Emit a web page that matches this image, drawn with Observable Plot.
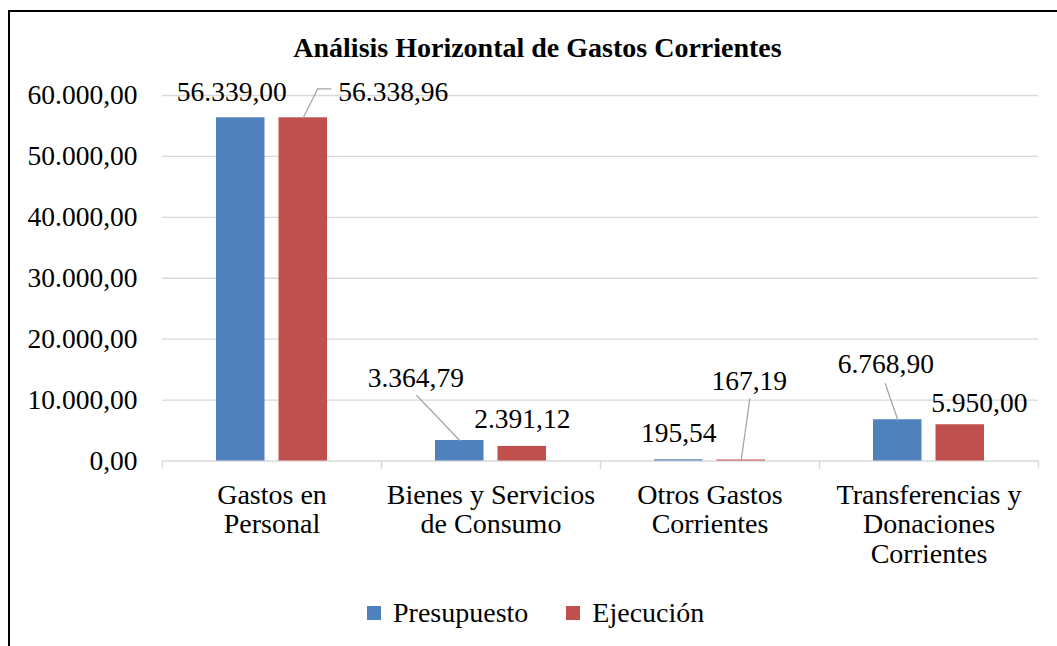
<!DOCTYPE html>
<html>
<head>
<meta charset="utf-8">
<script src="https://cdn.jsdelivr.net/npm/d3@7"></script>
<script src="https://cdn.jsdelivr.net/npm/@observablehq/plot@0.6"></script>
<style>
  html, body { margin: 0; padding: 0; background: #fff; width: 1057px; height: 646px; overflow: hidden; position: relative;
    font-family: 'Liberation Serif', 'Times New Roman', serif; color: #000; }
  #border { position: absolute; left: 8px; top: 10px; width: 1100px; height: 700px; border-left: 2px solid #000; border-top: 2px solid #000; box-sizing: border-box; }
  #title { position: absolute; left: 0; width: 1075px; top: 33.5px; text-align: center; font-weight: bold; font-size: 28px; line-height: 28px; font-family: 'Liberation Serif', serif; }
  #chart { position: absolute; left: 0; top: 70px; }
  #legend { position: absolute; left: 367px; top: 598.5px; display: flex; align-items: center; font-size: 28px; line-height: 28px; font-family: 'Liberation Serif', serif; }
  .sw { width: 14px; height: 14px; margin-right: 12px; }
  .item { display: flex; align-items: center; }
</style>
</head>
<body>
<div id="border"></div>
<div id="title">Análisis Horizontal de Gastos Corrientes</div>
<div id="chart"></div>
<div id="legend"></div>
<script>
// ---- data ----
const categories = ["Gastos en Personal", "Bienes y Servicios de Consumo", "Otros Gastos Corrientes", "Transferencias y Donaciones Corrientes"];
const categoryLabels = ["Gastos en\nPersonal", "Bienes y Servicios\nde Consumo", "Otros Gastos\nCorrientes", "Transferencias y\nDonaciones\nCorrientes"];
const series = ["Presupuesto", "Ejecución"];
const presupuesto = [56339.00, 3364.79, 195.54, 6768.90];
const ejecucion = [56338.96, 2391.12, 167.19, 5950.00];
const yTicks = [0, 10000, 20000, 30000, 40000, 50000, 60000];

// ---- presentation ----
const colors = ["#4f81bd", "#c0504d"];
// label offsets [dx, dy] (px) from bar top centre, per category
const presupuestoLabelOffsets = [[-9, -17], [-44, -54], [0, -18], [-12, -47]];
const ejecucionLabelOffsets = [[90, -17], [0, -18], [8, -70], [19, -13]];
// leader line polylines (px, relative to bar top centre), per category
const presupuestoLeaders = [null, [[-43, -45]], null, [[-12.5, -36]]];
const ejecucionLeaders = [[[14.5, -29], [27.5, -29]], null, [[8.5, -61]], null];

const locale = d3.formatLocale({decimal: ",", thousands: ".", grouping: [3], currency: ["", ""]});
const fmt = locale.format(",.2f");

const rows = [];
categories.forEach((c, i) => {
  rows.push({category: c, series: series[0], value: presupuesto[i], off: presupuestoLabelOffsets[i], leader: presupuestoLeaders[i]});
  rows.push({category: c, series: series[1], value: ejecucion[i], off: ejecucionLabelOffsets[i], leader: ejecucionLeaders[i]});
});

const lineShape = { draw(ctx, l) { ctx.moveTo(0, 0); ctx.lineTo(0, -l); } };

const labelMarks = rows.map(r => Plot.text([r], {
  fx: "category", x: "series", y: "value", text: d => fmt(d.value),
  dx: r.off[0], dy: r.off[1], lineAnchor: "bottom", textAnchor: "middle", fill: "#000", fontSize: 27.5
}));

const leaderMarks = [];
rows.forEach(r => {
  if (!r.leader) return;
  let prev = [0, 0];
  for (const p of r.leader) {
    const ex = p[0] - prev[0], ey = p[1] - prev[1];
    leaderMarks.push(Plot.vector([r], {
      fx: "category", x: "series", y: "value", dx: prev[0], dy: prev[1], anchor: "start",
      length: Math.hypot(ex, ey), rotate: Math.atan2(ex, -ey) * 180 / Math.PI,
      shape: lineShape, stroke: "#a6a6a6", strokeWidth: 1.3
    }));
    prev = p;
  }
});

const chart = Plot.plot({
  width: 1057, height: 510,
  marginTop: 25, marginBottom: 119.5, marginLeft: 162, marginRight: 19,
  style: {fontFamily: "'Liberation Serif', 'Times New Roman', serif", fontSize: "28px", color: "#000", background: "transparent", overflow: "visible"},
  fx: {domain: categories, padding: 0, round: false},
  x: {domain: series, paddingInner: 0.224, paddingOuter: 0.864, round: false, axis: null},
  y: {domain: [0, 60000]},
  color: {domain: series, range: colors},
  marks: [
    Plot.gridY({ticks: yTicks, stroke: "#d9d9d9", strokeOpacity: 1, strokeWidth: 1.3}),
    Plot.frame({anchor: "left", stroke: "#d9d9d9", strokeOpacity: 1, strokeWidth: 1.3, insetTop: 365.5, insetBottom: -7}),
    Plot.frame({anchor: "right", stroke: "#d9d9d9", strokeOpacity: 1, strokeWidth: 1.3, insetTop: 365.5, insetBottom: -7}),
    Plot.axisY({ticks: yTicks, tickFormat: fmt, tickSize: 0, tickPadding: 25, label: null, fontSize: 27.5}),
    Plot.axisFx({anchor: "bottom", tickSize: 0, tickPadding: 22, lineHeight: 1.05, label: null,
      tickFormat: c => categoryLabels[categories.indexOf(c)]}),
    Plot.barY(rows, {fx: "category", x: "series", y: "value", fill: "series"}),
    ...leaderMarks,
    ...labelMarks
  ]
});
document.getElementById("chart").appendChild(chart);

const legend = document.getElementById("legend");
series.forEach((s, i) => {
  const item = document.createElement("div");
  item.className = "item";
  if (i > 0) item.style.marginLeft = "38px";
  const sw = document.createElement("div");
  sw.className = "sw";
  sw.style.background = colors[i];
  const t = document.createElement("span");
  t.textContent = s;
  item.appendChild(sw);
  item.appendChild(t);
  legend.appendChild(item);
});
</script>
</body>
</html>
